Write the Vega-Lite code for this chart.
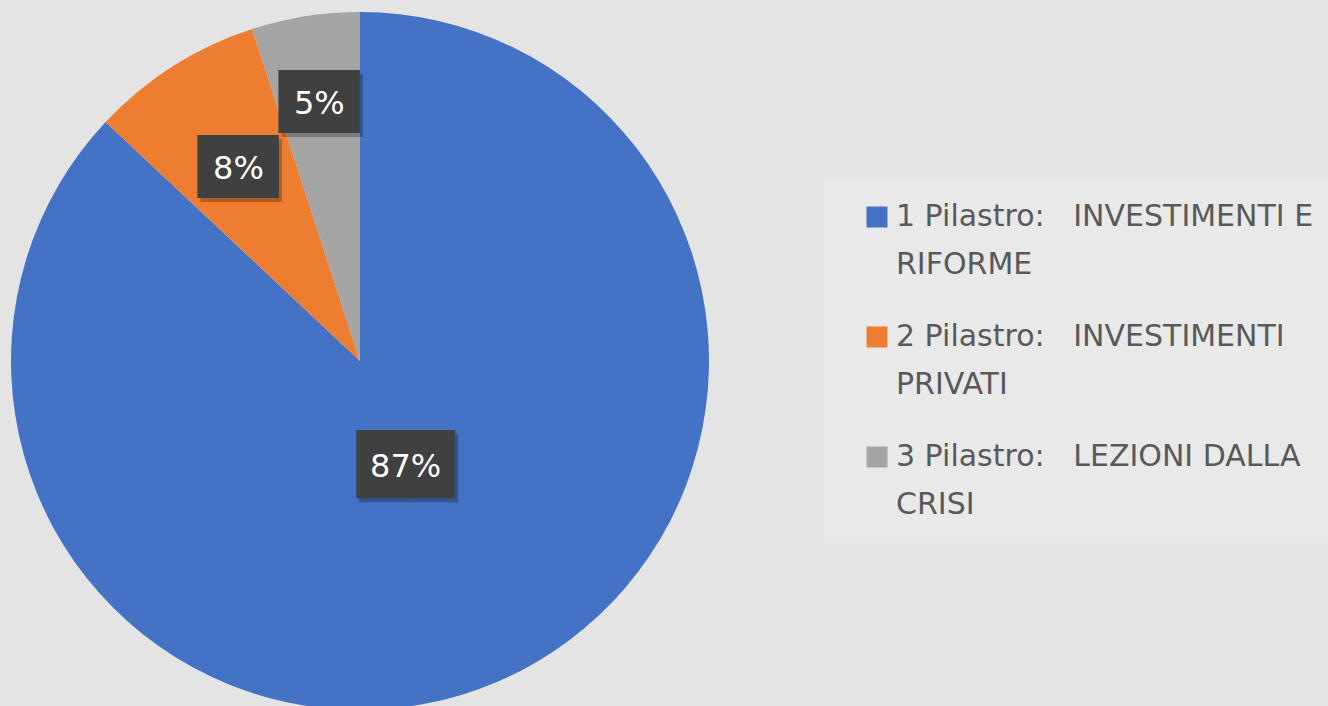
{
  "$schema": "https://vega.github.io/schema/vega-lite/v6.json",
  "width": 720,
  "height": 722,
  "padding": 0,
  "autosize": {"type": "pad"},
  "background": "#e4e4e4",
  "config": {"view": {"stroke": null}},
  "data": {
    "values": [
      {"pilastro": "1 Pilastro:\u00a0\u00a0\u00a0INVESTIMENTI E|RIFORME", "pct": 87, "label": "87%"},
      {"pilastro": "2 Pilastro:\u00a0\u00a0\u00a0INVESTIMENTI|PRIVATI", "pct": 8, "label": "8%"},
      {"pilastro": "3 Pilastro:\u00a0\u00a0\u00a0LEZIONI DALLA|CRISI", "pct": 5, "label": "5%"}
    ]
  },
  "encoding": {
    "theta": {"field": "pct", "type": "quantitative", "stack": true},
    "order": {"field": "pct", "type": "quantitative", "sort": "descending"}
  },
  "layer": [
    {
      "mark": {"type": "arc", "outerRadius": 349},
      "encoding": {
        "color": {
          "field": "pilastro",
          "type": "nominal",
          "sort": null,
          "scale": {
            "domain": [
              "1 Pilastro:\u00a0\u00a0\u00a0INVESTIMENTI E|RIFORME",
              "2 Pilastro:\u00a0\u00a0\u00a0INVESTIMENTI|PRIVATI",
              "3 Pilastro:\u00a0\u00a0\u00a0LEZIONI DALLA|CRISI"
            ],
            "range": ["#4472C4", "#ED7D31", "#A5A5A5"]
          },
          "legend": {
            "title": null,
            "orient": "none",
            "legendX": 824,
            "legendY": 179,
            "fillColor": "#e9e9e9",
            "padding": 23,
            "symbolOffset": 15,
            "symbolType": "square",
            "symbolSize": 440,
            "symbolStrokeWidth": 0,
            "labelFont": "DejaVu Sans",
            "labelFontSize": 30,
            "labelColor": "#595959",
            "labelLimit": 700,
            "labelOffset": 4,
            "rowPadding": 42,
            "labelExpr": "split(datum.label, '|')",
            "encode": {"labels": {"update": {"lineHeight": {"value": 48}}}}
          }
        }
      }
    },
    {
      "mark": {"type": "text", "font": "DejaVu Sans", "color": "#000000", "opacity": 0.25, "baseline": "middle", "align": "center", "dx": 3, "dy": 4},
      "encoding": {
        "radius": {"field": "pct", "type": "quantitative", "scale": {"type": "pow", "exponent": -0.3, "domain": [5, 87], "range": [260, 115], "zero": false}},
        "size": {"condition": {"test": "datum.pct === 87", "value": 57.5}, "value": 53},
        "text": {"condition": {"test": "datum.pct === 87", "value": "\u2595\u2588\u2588\u258f"}, "value": "\u2590\u2588\u258c"}
      }
    },
    {
      "mark": {"type": "text", "font": "DejaVu Sans", "color": "#404040", "baseline": "middle", "align": "center"},
      "encoding": {
        "radius": {"field": "pct", "type": "quantitative", "scale": {"type": "pow", "exponent": -0.3, "domain": [5, 87], "range": [260, 115], "zero": false}},
        "size": {"condition": {"test": "datum.pct === 87", "value": 57.5}, "value": 53},
        "text": {"condition": {"test": "datum.pct === 87", "value": "\u2595\u2588\u2588\u258f"}, "value": "\u2590\u2588\u258c"}
      }
    },
    {
      "mark": {"type": "text", "font": "DejaVu Sans", "fontSize": 32, "color": "#ffffff", "baseline": "middle", "align": "center"},
      "encoding": {
        "radius": {"field": "pct", "type": "quantitative", "scale": {"type": "pow", "exponent": -0.3, "domain": [5, 87], "range": [260, 115], "zero": false}},
        "text": {"field": "label", "type": "nominal"}
      }
    }
  ]
}
